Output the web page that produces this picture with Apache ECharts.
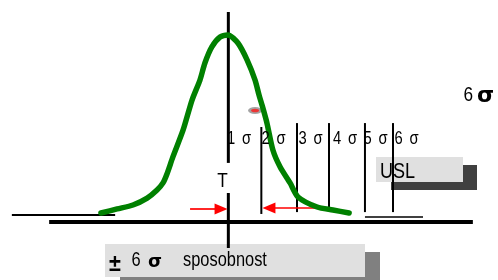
<!DOCTYPE html>
<html>
<head>
<meta charset="utf-8">
<script src="https://cdn.jsdelivr.net/npm/echarts@6/dist/echarts.min.js"></script>
<style>
  html, body { margin: 0; padding: 0; background: #fff; }
  #chart { width: 498px; height: 280px; }
</style>
</head>
<body>
<div id="chart"></div>
<script>
// bell curve, x in sigma units from target, y relative height (peak = 1)
const curveX = [-3.88, -3.39, -2.91, -2.48, -2.18, -2.00, -1.88, -1.70, -1.39, -1.12, -0.88, -0.73, -0.52, -0.27, -0.03,
                0.27, 0.55, 0.79, 0.91, 1.00, 1.15, 1.33, 1.55, 1.85, 2.09, 2.67, 3.15, 3.64];
const curveY = [0.048, 0.070, 0.091, 0.128, 0.171, 0.209, 0.257, 0.348, 0.492, 0.652, 0.759, 0.850, 0.936, 0.989, 1.000,
                0.957, 0.866, 0.759, 0.679, 0.626, 0.529, 0.385, 0.294, 0.209, 0.134, 0.080, 0.064, 0.048];

// sigma divider lines
const sigmaLineX = [0.98, 2.06, 3.03, 4.12, 4.97];
const sigmaLineTop = [0.508, 0.529, 0.529, 0.529, 0.529];
const sigmaLineBottom = [0.043, 0.053, 0.064, 0.053, 0.053];
const sigmaLabels = ['1 σ', '2 σ', '3 σ', '4 σ', '5 σ', '6 σ'];

// target (T) line, two pieces
const targetX = -0.02;
const targetTop = [1.123, 0.155];
const targetBottom = [0.316, -0.139];

// red arrows
const arrowFrom = [-1.18, 2.70];
const arrowTo = [-0.24, 1.21];
const arrowY = [0.070, 0.075];

// base lines: [x1, x2, y]
const axisLine = [-5.45, 7.39, 0];
const leftBase = [-6.58, -3.45, 0.037];
const rightBase = [4.12, 5.88, 0.027];

const markerPoint = [0.79, 0.596];

// pixel mapping of the drawing area
const X0 = 229, SX = 33, Y0 = 222, SY = 187, W = 498, H = 280;

const chart = echarts.init(document.getElementById('chart'));

const seg = (x1, y1, x2, y2, color, width, z) => ({
  type: 'line',
  data: [[x1, y1], [x2, y2]],
  showSymbol: false,
  symbol: 'none',
  silent: true,
  z: z || 3,
  lineStyle: { color: color, width: width, cap: 'butt' }
});

const series = [];
series.push(seg(axisLine[0], axisLine[2], axisLine[1], axisLine[2], '#000', 4));
series.push(seg(leftBase[0], leftBase[2], leftBase[1], leftBase[2], '#000', 2));
series.push(seg(rightBase[0], rightBase[2], rightBase[1], rightBase[2], '#000', 1.5));
targetTop.forEach((t, i) => series.push(seg(targetX, t, targetX, targetBottom[i], '#000', 3)));
sigmaLineX.forEach((x, i) => series.push(seg(x, sigmaLineTop[i], x, sigmaLineBottom[i], '#000', 2)));

series.push({
  type: 'line',
  data: curveX.map((x, i) => [x, curveY[i]]),
  showSymbol: false,
  smooth: 0.25,
  silent: true,
  z: 5,
  lineStyle: { color: '#008000', width: 5.5, cap: 'round', join: 'round' }
});

series.push({
  type: 'line',
  data: [],
  silent: true,
  z: 6,
  markLine: {
    silent: true,
    symbol: ['none', 'triangle'],
    symbolSize: [11, 13],
    label: { show: false },
    lineStyle: { color: '#ff0000', width: 1.7, type: 'solid' },
    emphasis: { disabled: true },
    data: arrowFrom.map((x, i) => [{ coord: [x, arrowY[i]] }, { coord: [arrowTo[i], arrowY[i]] }])
  }
});

series.push({
  type: 'scatter',
  data: [markerPoint],
  symbol: 'circle',
  symbolSize: [14, 7],
  silent: true,
  z: 4,
  itemStyle: { color: '#8c8c8c' }
});
series.push({
  type: 'scatter',
  data: [markerPoint],
  symbol: 'circle',
  symbolSize: [8, 3.5],
  silent: true,
  z: 4,
  itemStyle: { color: '#ff1a1a' }
});

// no narrow face installed, so squeeze Liberation Sans horizontally
const txt = (text, x, y, size, style, sx) => ({
  type: 'text', x: x, y: y, z: 100, silent: true,
  scaleX: sx === undefined ? 0.82 : sx,
  style: Object.assign({
    text: text, fill: '#000', fontSize: size, fontFamily: '"Liberation Sans", Arial, sans-serif',
    textAlign: 'left', textVerticalAlign: 'middle'
  }, style || {})
});
const boldSigma = { fontFamily: '"DejaVu Sans"', fontWeight: 'bold' };

const sigmaLabelLeft = [227, 261.5, 298.5, 333, 363.5, 394.5];

const graphic = [
  { type: 'rect', z: 0, silent: true, shape: { x: 120, y: 252, width: 260, height: 40 }, style: { fill: '#808080' } },
  { type: 'rect', z: 0, silent: true, shape: { x: 105, y: 244, width: 260, height: 33 }, style: { fill: '#e0e0e0' } },
  { type: 'rect', z: 0, silent: true, shape: { x: 391, y: 165, width: 86, height: 25 }, style: { fill: '#404040' } },
  { type: 'rect', z: 0, silent: true, shape: { x: 376, y: 157, width: 87, height: 25 }, style: { fill: '#e0e0e0' } },
  txt('USL', 380, 171.5, 22),
  txt('T', 222.5, 181, 21, { textAlign: 'center' }),
  txt('6', 463.5, 95, 21),
  txt('σ', 477, 96, 22, boldSigma, 1),
  txt('±', 109, 264, 24, { fontWeight: 'bold' }, 0.9),
  txt('6', 131.5, 260.5, 20),
  txt('σ', 148, 262, 18, boldSigma, 1),
  txt('sposobnost', 183, 260.5, 20)
];
// digit and sigma of each label are set a little further apart than a plain space
sigmaLabels.forEach((s, i) => {
  const parts = s.split(' ');
  graphic.push(txt(parts[0], sigmaLabelLeft[i], 139.5, 18));
  graphic.push(txt(parts[1], sigmaLabelLeft[i] + 15, 139.5, 18));
});

const option = {
  animation: false,
  grid: { left: 0, right: 0, top: 0, bottom: 0 },
  xAxis: { type: 'value', min: -X0 / SX, max: (W - X0) / SX, show: false },
  yAxis: { type: 'value', min: (Y0 - H) / SY, max: Y0 / SY, show: false },
  series: series,
  graphic: graphic
};

chart.setOption(option);
</script>
</body>
</html>
